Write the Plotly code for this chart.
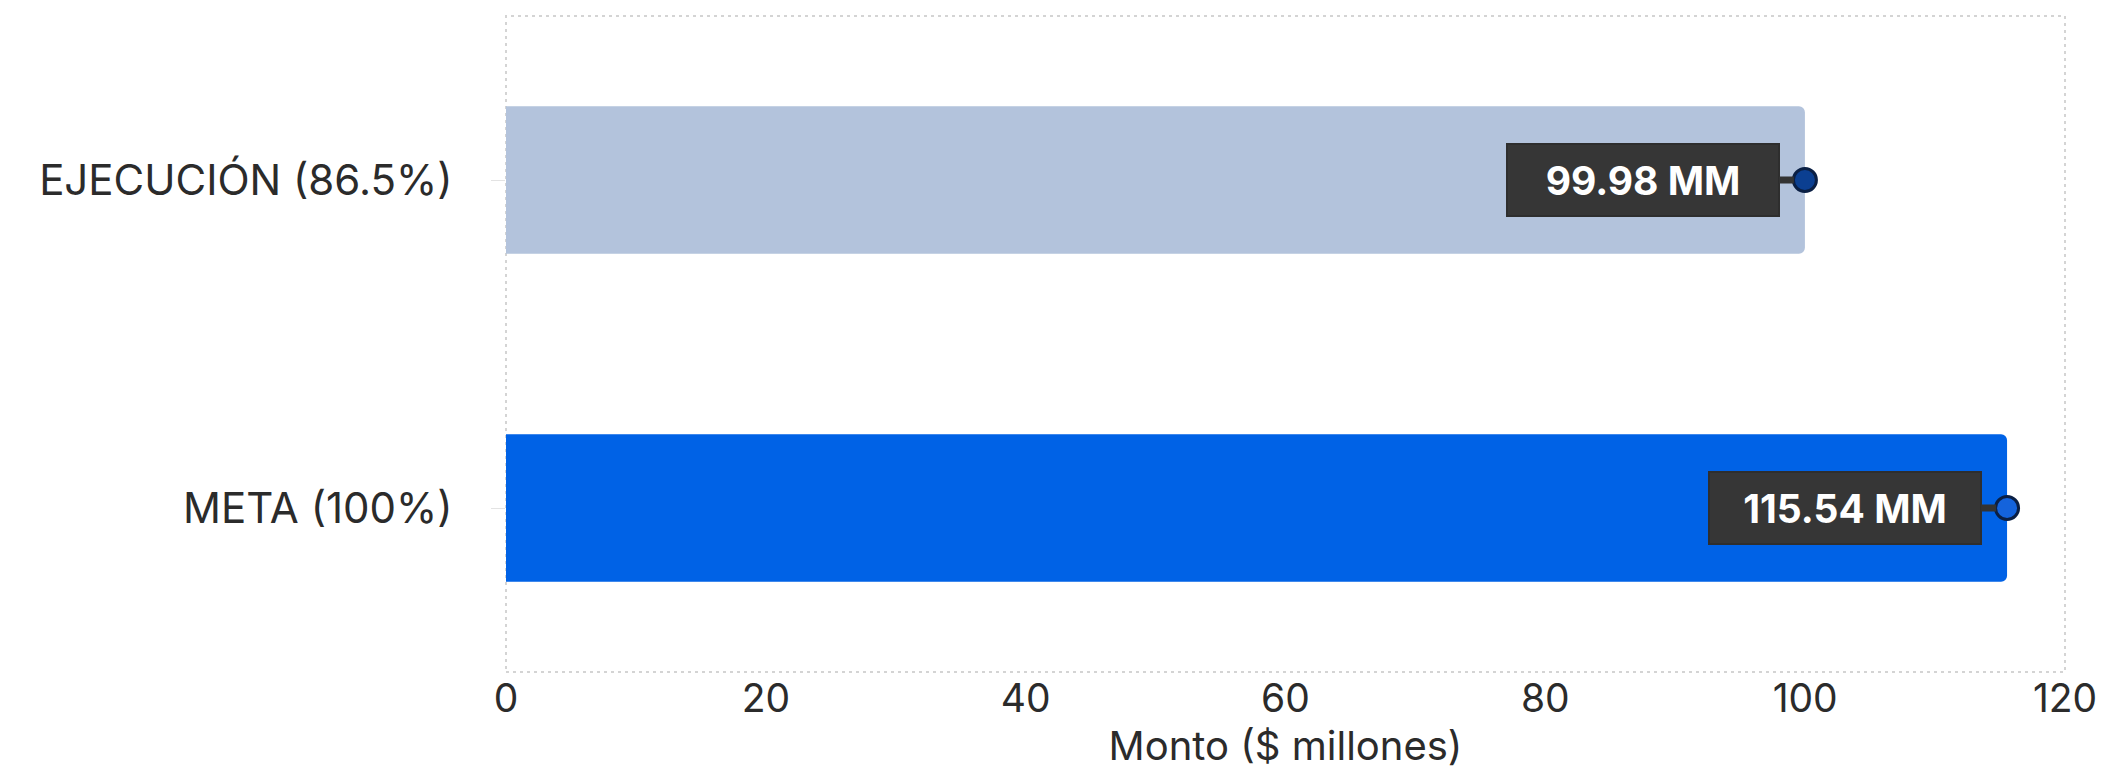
import plotly.graph_objects as go

categories = ["EJECUCIÓN (86.5%)", "META (100%)"]
values = [99.98, 115.54]
value_labels = ["99.98 MM", "115.54 MM"]
bar_colors = ["#b3c3dc", "#0062e6"]
marker_colors = ["#0b3f91", "#1463dc"]
x_ticks = [0, 20, 40, 60, 80, 100, 120]

FONT = "Inter"

fig = go.Figure()
fig.add_trace(go.Bar(
    x=values, y=categories, orientation="h",
    marker=dict(color=bar_colors, line=dict(width=0)),
    width=0.45, hoverinfo="skip", showlegend=False,
))
fig.add_trace(go.Scatter(
    x=values, y=categories, mode="markers",
    marker=dict(size=23, color=marker_colors, line=dict(color="#0a1f44", width=3)),
    hoverinfo="skip", showlegend=False,
))

for v, c, lab in zip(values, categories, value_labels):
    fig.add_annotation(
        x=v, y=c, xref="x", yref="y",
        text="<b>%s</b>" % lab,
        showarrow=True, ax=-162, ay=0, axref="pixel", ayref="pixel",
        arrowhead=0, arrowwidth=7, arrowcolor="#333333", standoff=11,
        bgcolor="#363636", bordercolor="#2e2e2e", borderwidth=2, borderpad=10,
        width=250, height=50,
        font=dict(family=FONT, size=39, color="#ffffff"),
    )

fig.add_shape(type="rect", xref="paper", yref="paper", x0=0, x1=1, y0=0, y1=1,
              line=dict(color="#d4d4d4", width=2, dash="3px,4px"), layer="below")

fig.update_layout(
    width=2113, height=772,
    margin=dict(l=498, r=56, t=8, b=108),
    paper_bgcolor="#ffffff", plot_bgcolor="#ffffff",
    barcornerradius=6,
    font=dict(family=FONT, color="#2b2b2b"),
    xaxis=dict(
        range=[0, 120], tickvals=x_ticks, ticktext=[str(t) for t in x_ticks],
        showgrid=False, zeroline=False, showline=False,
        tickfont=dict(family=FONT, size=39, color="#2b2b2b"),
        title=dict(text="Monto ($ millones)", font=dict(family=FONT, size=40, color="#2b2b2b"), standoff=6),
        ticks="", fixedrange=True,
    ),
    yaxis=dict(
        autorange="reversed", showgrid=False, zeroline=False, showline=False,
        tickfont=dict(family=FONT, size=42, color="#2b2b2b"),
        ticks="outside", ticklen=14, tickcolor="#e3e3e3", tickwidth=1,
        ticklabelstandoff=30, fixedrange=True,
    ),
)

fig.write_html("out.html")
